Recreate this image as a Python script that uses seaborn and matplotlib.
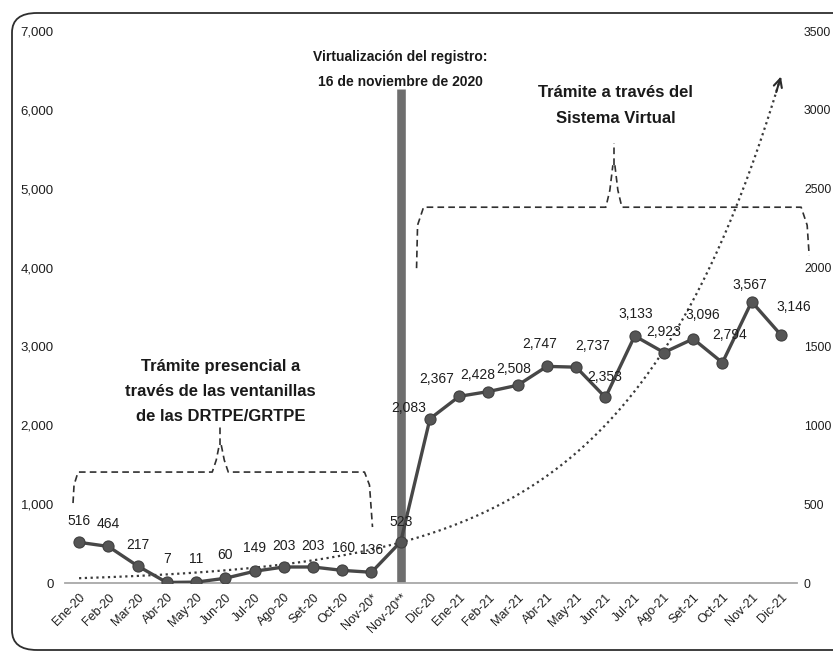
import numpy as np
import pandas as pd
import matplotlib
matplotlib.use("Agg")
import matplotlib.pyplot as plt
from matplotlib.patches import FancyBboxPatch
from matplotlib.ticker import FuncFormatter
import seaborn as sns

# Monthly registrations, Jan-2020 to Dec-2021 (Nov-20 split at the virtualisation date)
months = ["Ene-20", "Feb-20", "Mar-20", "Abr-20", "May-20", "Jun-20", "Jul-20",
          "Ago-20", "Set-20", "Oct-20", "Nov-20*", "Nov-20**", "Dic-20",
          "Ene-21", "Feb-21", "Mar-21", "Abr-21", "May-21", "Jun-21", "Jul-21",
          "Ago-21", "Set-21", "Oct-21", "Nov-21", "Dic-21"]
registros = [516, 464, 217, 7, 11, 60, 149, 203, 203, 160, 136, 523, 2083,
             2367, 2428, 2508, 2747, 2737, 2353, 3133, 2923, 3096, 2794, 3567, 3146]

left_ticks = [0, 1000, 2000, 3000, 4000, 5000, 6000, 7000]
right_ticks = [0, 500, 1000, 1500, 2000, 2500, 3000, 3500]

# label nudges in pixels (dx, dy upward) so overlapping numbers stay readable
label_dx = [0, 0, 0, 0, 0, 0, 0, 0, 0, 1, 0, 0, -21, -23, -11, -4, -7, 16, -1, 1, 0, 10, 7, -2, 13]
label_dy = [21, 22, 21, 23, 23, 23, 23, 21, 21, 22, 22, 20, 11, 17, 17, 16, 22, 21, 20, 22, 21, 24, 28, 17, 28]

sns.set_style("white")
FAM = ["Liberation Sans", "DejaVu Sans"]
plt.rcParams["font.family"] = FAM

DPI = 100
fig = plt.figure(figsize=(8.33, 6.53), dpi=DPI)
ax = fig.add_axes([65 / 833, 1 - 583 / 653, (797 - 65) / 833, (583 - 31) / 653])

df = pd.DataFrame({"idx": np.arange(len(months)), "mes": months, "valor": registros})

# virtualisation marker at Nov-20**
cut = months.index("Nov-20**")
ax.vlines(cut, 0, 6270, color="#6e6e6e", lw=6.2, zorder=2)

sns.lineplot(data=df, x="idx", y="valor", ax=ax, color="#474747", lw=2.4,
             marker="o", markersize=8, markerfacecolor="#555555",
             markeredgecolor="#404040", markeredgewidth=0.8, zorder=4)

# exponential trend fitted to the monthly series
b, a = np.polyfit(df["idx"], np.log(df["valor"]), 1)
xt = np.linspace(0, len(months) - 1, 300)
yt = np.exp(a + b * xt)
ax.plot(xt, yt, ls=(0, (1, 1.6)), color="#3a3a3a", lw=1.6, zorder=3)
ax.annotate("", xy=(xt[-1], yt[-1]), xytext=(xt[-3], yt[-3]),
            arrowprops=dict(arrowstyle="->,head_length=0.6,head_width=0.3",
                            color="#2a2a2a", lw=1.5, shrinkA=0, shrinkB=0),
            zorder=3)

# value labels
for i, v in enumerate(registros):
    ax.annotate(f"{v:,}", xy=(i, v),
                xytext=(label_dx[i] * 0.72, label_dy[i] * 0.72),
                textcoords="offset points", ha="center", va="center",
                fontsize=10, color="#1e1e1e", zorder=5)

ax.set_xlim(-0.48, 24.55)
ax.set_ylim(0, 7000)
ax.set_yticks(left_ticks)
ax.yaxis.set_major_formatter(FuncFormatter(lambda v, p: f"{int(v):,}"))
ax.set_xticks(range(len(months)))
ax.set_xticklabels(months, rotation=45, ha="right", rotation_mode="anchor",
                   fontsize=9, color="#1e1e1e")
ax.tick_params(axis="y", length=0, pad=8, labelsize=9.5, labelcolor="#1e1e1e")
ax.tick_params(axis="x", length=0, pad=6)
ax.set_xlabel("")
ax.set_ylabel("")
for s in ["top", "right", "left"]:
    ax.spines[s].set_visible(False)
ax.spines["bottom"].set_color("#a8a8a8")
ax.spines["bottom"].set_linewidth(1.3)
ax.patch.set_alpha(0)

ax2 = ax.twinx()
ax2.set_ylim(0, 3500)
ax2.set_yticks(right_ticks)
ax2.tick_params(axis="y", length=0, pad=5, labelsize=8.8, labelcolor="#1e1e1e")
for s in ax2.spines.values():
    s.set_visible(False)
ax.set_zorder(ax2.get_zorder() + 1)

# dashed braces grouping the two periods
brace_kw = dict(ls=(0, (4, 2.5)), color="#303030", lw=1.2, clip_on=False, zorder=3)
px = lambda x: (x - 79) / 29.2
py = lambda y: (583 - y) / 78.9 * 1000
left_brace = [(73, 503), (74, 485), (78, 472), (212, 472), (216, 460), (219, 445)]
left_brace2 = [(221, 445), (224, 460), (228, 472), (364, 472), (369, 485), (372, 527)]
for seg in (left_brace, left_brace2):
    ax.plot([px(p[0]) for p in seg], [py(p[1]) for p in seg], **brace_kw)
ax.plot([px(220), px(220)], [py(445), py(424)], **brace_kw)

right_brace = [(416, 268), (417, 225), (423, 207), (605, 207), (609, 190), (612, 165)]
right_brace2 = [(614, 165), (617, 190), (621, 207), (800, 207), (806, 225), (808, 255)]
for seg in (right_brace, right_brace2):
    ax.plot([px(p[0]) for p in seg], [py(p[1]) for p in seg], **brace_kw)
ax.plot([px(613), px(613)], [py(165), py(143)], **brace_kw)

# annotations
ax.text(cut, py(57), "Virtualización del registro:", ha="center", va="center",
        fontsize=10, fontweight="bold", color="#1a1a1a")
ax.text(cut, py(82), "16 de noviembre de 2020", ha="center", va="center",
        fontsize=10, fontweight="bold", color="#1a1a1a")
for k, line in enumerate(["Trámite a través del", "Sistema Virtual"]):
    ax.text(px(615), py(92 + 26 * k), line, ha="center", va="center",
            fontsize=12, fontweight="bold", color="#1a1a1a")
for k, line in enumerate(["Trámite presencial a", "través de las ventanillas",
                          "de las DRTPE/GRTPE"]):
    ax.text(px(220), py(366 + 25 * k), line, ha="center", va="center",
            fontsize=12, fontweight="bold", color="#1a1a1a")

# rounded frame around the chart
frame = FancyBboxPatch((12 / 833, 3 / 653), 1.2, (650 - 13) / 653,
                       boxstyle="round,pad=0,rounding_size=0.03",
                       transform=fig.transFigure, fill=False, lw=1.3,
                       ec="#2e2e2e", clip_on=False)
fig.patches.append(frame)

fig.savefig("out.png", dpi=DPI)
